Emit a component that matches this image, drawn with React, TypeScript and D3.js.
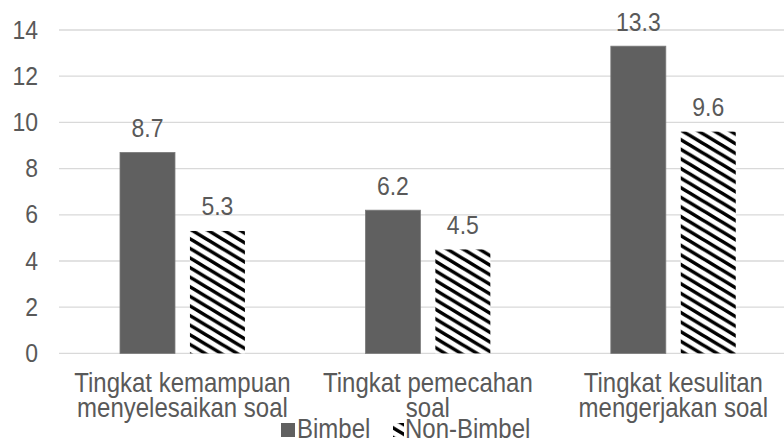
import React from "react";
import * as d3 from "d3";

const categories = [
  ["Tingkat kemampuan", "menyelesaikan soal"],
  ["Tingkat pemecahan", "soal"],
  ["Tingkat kesulitan", "mengerjakan soal"],
];
const seriesNames = ["Bimbel", "Non-Bimbel"];
const bimbel = [8.7, 6.2, 13.3];
const nonBimbel = [5.3, 4.5, 9.6];
const yTicks = [0, 2, 4, 6, 8, 10, 12, 14];

const W = 784;
const H = 441;
const FONT = "'Liberation Sans', Arial, sans-serif";
const TEXT = "#595959";
const SY = 1.12;

function T({ x, y, anchor = "start", size = 24, children }: any) {
  return (
    <text
      transform={`translate(${x},${y}) scale(1,${SY})`}
      textAnchor={anchor}
      fontSize={size}
      fill={TEXT}
    >
      {children}
    </text>
  );
}

export default function App() {
  const catKeys = categories.map((c) => c.join(" "));
  const x0 = d3
    .scaleBand<string>()
    .domain(catKeys)
    .range([59.75, 796])
    .paddingInner(0.491)
    .paddingOuter(0.2455);
  const x1 = d3
    .scaleBand<string>()
    .domain(seriesNames)
    .range([0, x0.bandwidth()])
    .paddingInner(0.214);
  const y = d3.scaleLinear().domain([0, 14]).range([353.4, 30]);
  const values = [bimbel, nonBimbel];

  return (
    <svg
      width={W}
      height={H}
      style={{ position: "fixed", left: 0, top: 0, background: "#fff" }}
      fontFamily={FONT}
    >
      <defs>
        <pattern
          id="stripes"
          patternUnits="userSpaceOnUse"
          width={8}
          height={8}
          patternTransform="scale(2,1.2)"
        >
          <rect width={8} height={8} fill="#fff" />
          <path
            d="M0,0 L8,8 M-2,6 L2,10 M6,-2 L10,2"
            stroke="#000"
            strokeWidth={2.4}
          />
        </pattern>
      </defs>
      <rect width={W} height={H} fill="#fff" />
      {yTicks.map((t) => (
        <g key={t}>
          <line
            x1={59}
            x2={W}
            y1={y(t)}
            y2={y(t)}
            stroke="#d9d9d9"
            strokeWidth={1.3}
          />
          <T x={38} y={y(t) + 8.5} anchor="end" size={23}>
            {t}
          </T>
        </g>
      ))}
      {catKeys.map((ck, i) =>
        seriesNames.map((s, j) => {
          const v = values[j][i];
          const bx = (x0(ck) as number) + (x1(s) as number);
          const bw = x1.bandwidth();
          return (
            <g key={ck + s}>
              <rect
                x={bx}
                y={y(v)}
                width={bw}
                height={y(0) - y(v)}
                fill={j === 0 ? "#606060" : "url(#stripes)"}
                stroke={j === 0 ? "#7a7a7a" : "none"}
                strokeWidth={0.8}
              />
              <T x={bx + bw / 2} y={y(v) - 15.5} anchor="middle" size={23}>
                {v.toFixed(1)}
              </T>
            </g>
          );
        })
      )}
      {categories.map((lines, i) => {
        const cx = (x0(catKeys[i]) as number) + x0.bandwidth() / 2;
        return (
          <g key={i}>
            {lines.map((l, k) => (
              <T key={k} x={cx} y={391.5 + k * 25} anchor="middle" size={24}>
                {l}
              </T>
            ))}
          </g>
        );
      })}
      <g>
        <rect x={281} y={423} width={14} height={14} fill="#606060" />
        <T x={297} y={437.5} size={24}>
          {seriesNames[0]}
        </T>
        <rect x={393} y={423} width={11} height={14} fill="url(#stripes)" />
        <T x={405} y={437.5} size={24}>
          {seriesNames[1]}
        </T>
      </g>
    </svg>
  );
}
